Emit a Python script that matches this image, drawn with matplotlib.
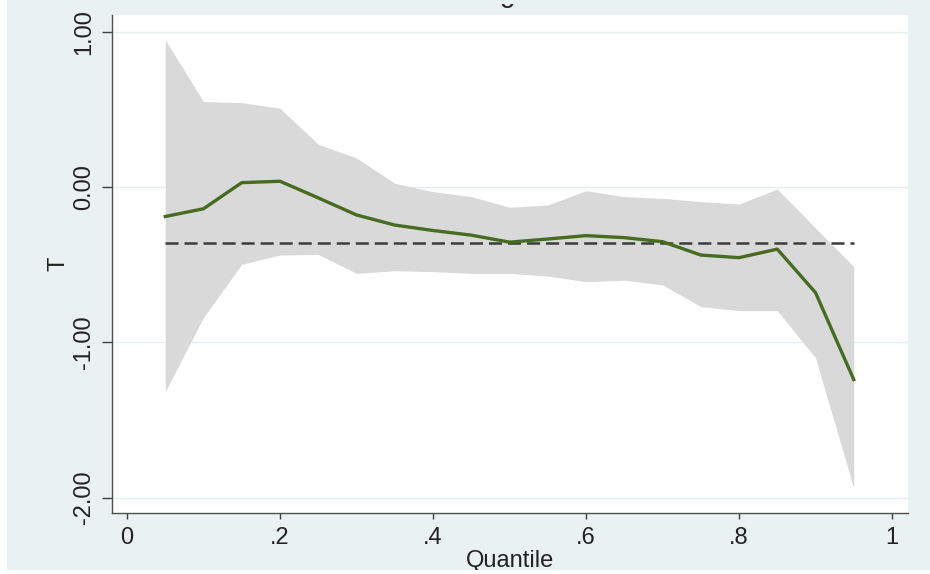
import matplotlib
matplotlib.use("Agg")
import matplotlib.pyplot as plt
from matplotlib.patches import Rectangle
from matplotlib.transforms import Bbox

quantiles = [0.05, 0.10, 0.15, 0.20, 0.25, 0.30, 0.35, 0.40, 0.45, 0.50,
             0.55, 0.60, 0.65, 0.70, 0.75, 0.80, 0.85, 0.90, 0.95]
coef = [-0.19, -0.14, 0.028, 0.037, -0.07, -0.18, -0.245, -0.28, -0.31, -0.355,
        -0.335, -0.313, -0.326, -0.352, -0.438, -0.455, -0.40, -0.68, -1.24]
upper = [0.947, 0.55, 0.543, 0.507, 0.275, 0.187, 0.024, -0.03, -0.062, -0.13,
         -0.116, -0.024, -0.062, -0.073, -0.094, -0.11, -0.013, -0.264, -0.513]
lower = [-1.318, -0.84, -0.498, -0.438, -0.434, -0.556, -0.539, -0.545, -0.556, -0.556,
         -0.573, -0.61, -0.60, -0.63, -0.77, -0.796, -0.796, -1.10, -1.94]
ols_coef = -0.36
ols_span = [0.05, 0.95]

xticks = [0, 0.2, 0.4, 0.6, 0.8, 1.0]
xticklabels = ["0", ".2", ".4", ".6", ".8", "1"]
yticks = [1, 0, -1, -2]
yticklabels = ["1.00", "0.00", "-1.00", "-2.00"]

plt.rcParams['font.family'] = ['Liberation Sans', 'DejaVu Sans']

W, H = 930, 574
fig = plt.figure(figsize=(W / 100, H / 100), dpi=100)
fig.patch.set_facecolor('#eaf1f3')
# thin white border strips of the scanned image
fig.patches.append(Rectangle((0, 0), 7 / W, 1, transform=fig.transFigure,
                             facecolor='white', edgecolor='none', zorder=0))
fig.patches.append(Rectangle((0, 0), 1, 4 / H, transform=fig.transFigure,
                             facecolor='white', edgecolor='none', zorder=0))

ax = fig.add_axes([112 / W, (H - 513) / H, (908 - 112) / W, (513 - 15) / H])
ax.set_facecolor('white')

ax.fill_between(quantiles, lower, upper, color='#d9d9d9', linewidth=0, zorder=2)
ax.plot(quantiles, coef, color='#466b21', linewidth=2.4, zorder=4,
        solid_joinstyle='round')
lw = 1.8
ax.plot(ols_span, [ols_coef, ols_coef], color='#3c3c3c', linewidth=lw,
        dashes=(9.4 / lw, 4.3 / lw), zorder=3)

ax.set_xlim(-0.0196, 1.0209)
ax.set_ylim(-2.099, 1.1075)

for yv in yticks:
    ax.axhline(yv, color='#e6eef0', linewidth=1.0, zorder=1)

ax.set_xticks(xticks)
ax.set_xticklabels(xticklabels, fontsize=17)
ax.set_yticks(yticks)
ax.set_yticklabels(yticklabels, fontsize=17, rotation=90, va='center')

for s in ['top', 'right']:
    ax.spines[s].set_visible(False)
for s in ['left', 'bottom']:
    ax.spines[s].set_color('#505050')
    ax.spines[s].set_linewidth(1.0)

ax.tick_params(axis='x', length=4.5, width=1.0, color='#404040', pad=5.5,
               labelcolor='#222222')
ax.tick_params(axis='y', length=7, width=1.0, color='#404040', pad=5,
               labelcolor='#222222')

ax.set_xlabel("Quantile", fontsize=17, color='#222222', labelpad=1)
ax.set_ylabel("T", fontsize=17, color='#222222', labelpad=3)

# cut-off title: only the descender of a "g" is visible at the top edge
t = fig.text(508 / W, 1 - 2 / H, "g", ha='center', va='baseline', fontsize=20,
             color='#222222')
t.set_clip_box(Bbox.from_extents(0, H - 10, W, H - 4))
t.set_clip_on(True)

fig.savefig("out.png", dpi=100, facecolor=fig.get_facecolor())
